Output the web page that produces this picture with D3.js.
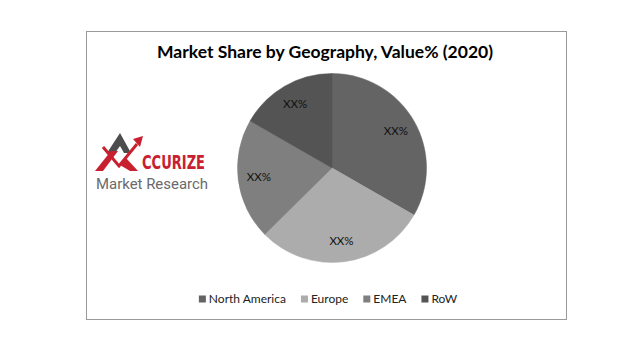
<!DOCTYPE html>
<html><head><meta charset="utf-8">
<script src="https://cdn.jsdelivr.net/npm/d3@7"></script>
<style>body{margin:0;background:#fff}svg{display:block}</style>
</head><body>
<script>
const categories = ["North America", "Europe", "EMEA", "RoW"];
const values = [33.3, 29.3, 20.7, 16.7];
const labels = ["XX%", "XX%", "XX%", "XX%"];
const colors = ["#646464", "#acacac", "#7f7f7f", "#545454"];
const title = "Market Share by Geography, Value% (2020)";

const W = 640, H = 357;
const svg = d3.select("body").append("svg").attr("width", W).attr("height", H);
svg.append("rect").attr("width", W).attr("height", H).attr("fill", "#fff");
svg.append("rect").attr("x", 86.5).attr("y", 31.5).attr("width", 480).attr("height", 288)
  .attr("fill", "#fff").attr("stroke", "#9a9a9a").attr("stroke-width", 1);

svg.append("text").attr("x", 325).attr("y", 58).attr("text-anchor", "middle")
  .attr("font-family", "Lato, 'Open Sans', sans-serif").attr("font-weight", "bold")
  .attr("font-size", 17).attr("fill", "#000")
  .attr("textLength", 336).attr("lengthAdjust", "spacingAndGlyphs").text(title);

const cx = 332, cy = 168, r = 94.5;
const pie = d3.pie().sort(null).value(d => d)(values);
const arc = d3.arc().innerRadius(0).outerRadius(r);
const labelArc = d3.arc().innerRadius(r * 0.78).outerRadius(r * 0.78);
const g = svg.append("g").attr("transform", `translate(${cx},${cy})`);
g.selectAll("path").data(pie).join("path")
  .attr("d", arc).attr("fill", (d, i) => colors[i])
  .attr("stroke", (d, i) => colors[i]).attr("stroke-width", 0.5);
g.selectAll("text").data(pie).join("text")
  .attr("transform", d => `translate(${labelArc.centroid(d)})`)
  .attr("text-anchor", "middle").attr("dy", "0.35em")
  .attr("font-family", "Lato, 'Open Sans', sans-serif").attr("font-size", 11.5).attr("fill", "#111")
  .text((d, i) => labels[i]);

// legend
const lg = svg.append("g");
let x = 0;
categories.forEach((c, i) => {
  const it = lg.append("g");
  it.append("rect").attr("x", 0).attr("y", -3.5).attr("width", 7).attr("height", 7).attr("fill", colors[i]);
  const t = it.append("text").attr("x", 10).attr("dy", "0.35em")
    .attr("font-family", "Lato, 'Open Sans', sans-serif").attr("font-size", 12).attr("fill", "#222").text(c);
  const w = 10 + t.node().getComputedTextLength();
  it.attr("transform", `translate(${x},0)`);
  x += w + 15;
});
const totalW = x - 15;
lg.attr("transform", `translate(${328 - totalW / 2},299)`);

// logo
const logo = svg.append("g");
logo.append("path").attr("d", "M107,153 L120,133 L131,153 L124,153 L120,146 L115,153 Z").attr("fill", "#4d4d4d");
logo.append("path").attr("d", "M95,171 L111,151 L118,151 L103,171 Z").attr("fill", "#c8202f");
logo.append("path").attr("d", "M103,147 L119,166 L137,144").attr("fill", "none").attr("stroke", "#c8202f").attr("stroke-width", 3);
logo.append("path").attr("d", "M133,139 L143,136 L140,147 Z").attr("fill", "#c8202f");
logo.append("path").attr("d", "M120,165 L126,158 L138,171 L130,171 Z").attr("fill", "#c8202f");
logo.append("text").attr("x", 142).attr("y", 169)
  .attr("font-family", "'Liberation Sans Narrow', 'DejaVu Sans Condensed', sans-serif").attr("font-weight", "bold")
  .attr("font-size", 20).attr("fill", "#c8202f")
  .attr("textLength", 63).attr("lengthAdjust", "spacingAndGlyphs").text("CCURIZE");
logo.append("text").attr("x", 96).attr("y", 189)
  .attr("font-family", "Roboto, sans-serif").attr("font-size", 14.5).attr("fill", "#6a6a6a")
  .attr("textLength", 112).attr("lengthAdjust", "spacingAndGlyphs").text("Market Research");
</script>
</body></html>
